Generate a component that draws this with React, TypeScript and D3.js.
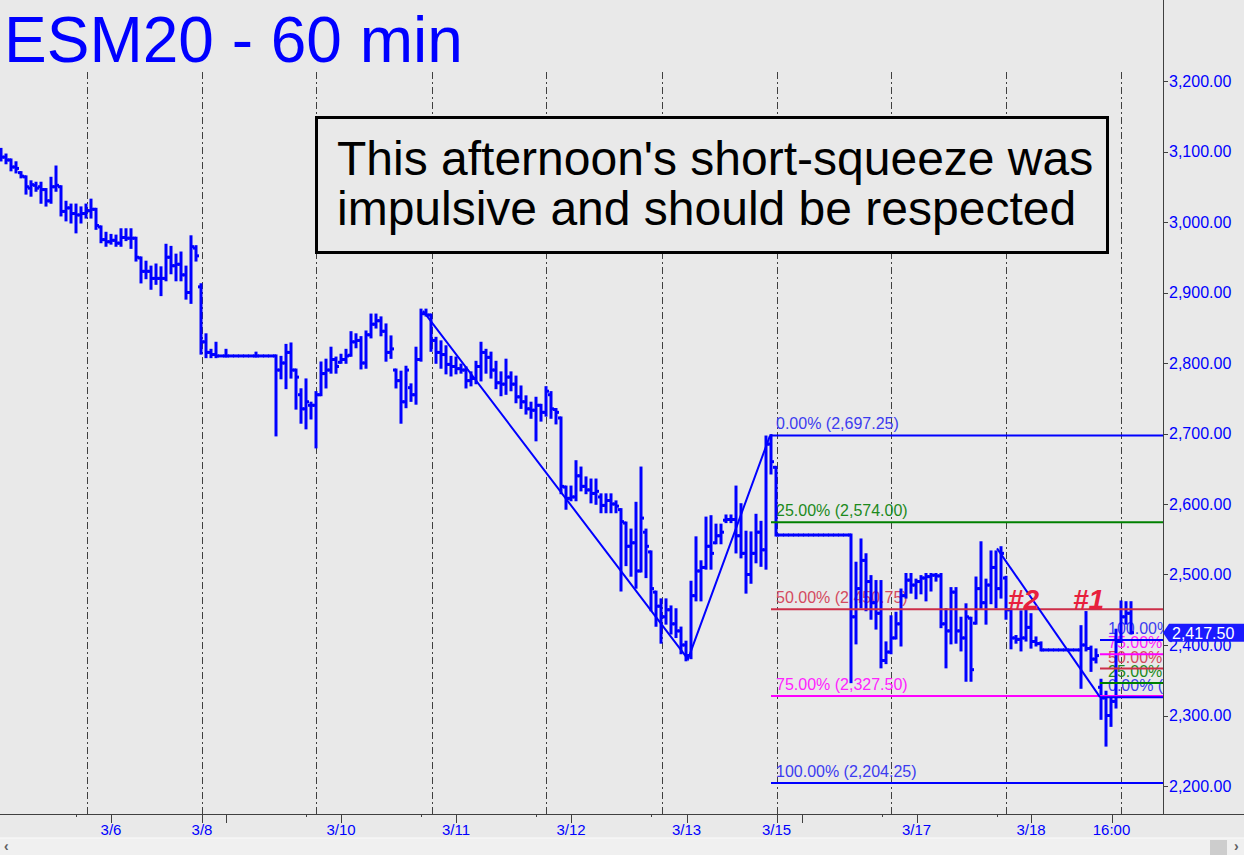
import React from 'react';
import * as d3 from 'd3';

// OHLC hourly bars [open, high, low, close]
const ohlc: [number, number, number, number][] = [
  [3100,3103,3088,3092],[3092,3095,3084,3088],[3088,3088,3074,3078],[3078,3084,3071,3076],
  [3070,3070,3064,3065],[3064,3064,3041,3050],[3048,3057,3038,3053],[3052,3055,3045,3048],
  [3050,3055,3028,3046],[3046,3046,3024,3030],[3030,3062,3028,3050],[3050,3078,3045,3052],
  [3050,3050,3010,3015],[3015,3028,3003,3020],[3020,3024,3000,3012],[3012,3024,2986,3010],
  [3010,3020,3000,3012],[3012,3024,3007,3016],[3016,3031,3007,3018],[3018,3018,2991,2995],
  [2993,2993,2972,2975],[2975,2984,2967,2972],[2972,2981,2970,2974],[2974,2980,2967,2970],
  [2970,2989,2967,2978],[2978,2989,2975,2977],[2977,2989,2964,2977],[2977,2977,2946,2950],
  [2949,2949,2915,2930],[2930,2943,2921,2930],[2930,2936,2906,2920],[2920,2939,2913,2920],
  [2920,2935,2897,2920],[2920,2967,2918,2950],[2950,2964,2928,2938],[2938,2953,2918,2940],
  [2940,2956,2918,2925],[2925,2936,2892,2900],[2900,2979,2886,2965],[2963,2965,2946,2952],
  [2908,2911,2814,2830],[2830,2840,2809,2815],[2815,2818,2809,2812],[2812,2828,2809,2810],
  [2810,2810,2810,2810],[2810,2818,2810,2810],[2810,2810,2810,2810],[2810,2810,2810,2810],
  [2810,2810,2810,2810],[2810,2810,2810,2810],[2810,2810,2810,2810],[2810,2814,2810,2810],
  [2810,2810,2810,2810],[2810,2810,2810,2810],[2810,2810,2810,2810],
  [2810,2810,2698,2790],[2790,2808,2779,2800],[2800,2825,2765,2815],[2815,2827,2780,2790],
  [2790,2790,2736,2780],[2755,2762,2716,2735],[2735,2776,2708,2745],[2740,2743,2722,2740],
  [2740,2758,2681,2755],[2755,2800,2755,2785],[2785,2804,2766,2790],[2790,2821,2787,2805],
  [2805,2807,2787,2795],[2801,2811,2801,2805],[2805,2818,2801,2810],[2811,2843,2811,2830],
  [2830,2840,2823,2832],[2832,2836,2793,2800],[2800,2844,2794,2840],[2840,2868,2837,2855],
  [2855,2868,2851,2860],[2860,2864,2840,2845],[2845,2854,2804,2815],[2815,2837,2808,2820],
  [2790,2790,2766,2775],[2775,2787,2716,2745],[2745,2794,2738,2790],[2765,2769,2747,2755],
  [2755,2821,2743,2805],[2805,2875,2804,2870],[2870,2875,2868,2868],[2868,2868,2818,2832],
  [2832,2835,2801,2815],[2815,2830,2794,2812],[2812,2823,2786,2798],[2798,2808,2783,2795],
  [2795,2807,2786,2792],[2792,2797,2787,2790],[2790,2793,2766,2775],[2775,2786,2769,2778],
  [2778,2801,2772,2795],[2795,2828,2776,2815],[2815,2818,2787,2808],[2808,2814,2780,2790],
  [2790,2801,2765,2772],[2772,2786,2755,2770],[2770,2804,2757,2780],[2780,2786,2762,2770],
  [2770,2780,2745,2752],[2752,2766,2737,2745],[2745,2752,2729,2735],[2735,2743,2723,2733],
  [2733,2750,2691,2740],[2740,2740,2719,2730],[2730,2765,2726,2760],[2755,2758,2723,2735],
  [2734,2734,2715,2730],[2722,2722,2616,2625],[2624,2624,2594,2608],[2608,2624,2606,2610],
  [2610,2660,2606,2640],[2640,2651,2620,2625],[2625,2637,2616,2620],[2620,2634,2603,2615],
  [2615,2634,2601,2618],[2610,2613,2589,2598],[2598,2613,2589,2605],[2605,2613,2589,2600],
  [2600,2603,2589,2597],[2592,2592,2478,2575],[2573,2573,2514,2540],[2540,2563,2499,2545],
  [2545,2601,2482,2505],[2505,2651,2505,2580],[2560,2563,2497,2540],[2532,2532,2450,2480],
  [2475,2475,2428,2455],[2455,2464,2404,2440],[2440,2464,2431,2450],[2450,2454,2417,2430],
  [2430,2450,2412,2420],[2420,2424,2389,2400],[2400,2404,2379,2385],[2385,2489,2382,2470],
  [2470,2552,2464,2505],[2505,2518,2464,2510],[2510,2580,2509,2540],[2540,2582,2509,2530],
  [2545,2570,2545,2555],[2555,2570,2545,2560],[2577,2583,2575,2578],[2578,2583,2575,2578],
  [2578,2624,2532,2555],[2555,2599,2525,2530],[2530,2560,2475,2500],[2500,2559,2489,2530],
  [2530,2584,2518,2560],[2560,2574,2513,2535],[2535,2695,2509,2685],[2685,2697,2644,2660],
  [2652,2652,2556,2556],
  [2556,2556,2556,2556],[2556,2556,2556,2556],[2556,2556,2556,2556],[2556,2556,2556,2556],
  [2556,2556,2556,2556],[2556,2556,2556,2556],[2556,2556,2556,2556],[2556,2556,2556,2556],
  [2556,2556,2556,2556],[2556,2556,2556,2556],[2556,2556,2556,2556],[2556,2556,2556,2556],
  [2556,2556,2556,2556],[2556,2556,2556,2556],
  [2556,2556,2348,2440],[2440,2516,2403,2480],[2480,2549,2454,2520],[2520,2528,2450,2490],
  [2490,2497,2438,2460],[2460,2490,2424,2445],[2445,2490,2369,2378],[2378,2403,2375,2390],
  [2390,2440,2389,2410],[2410,2445,2410,2430],[2430,2478,2400,2470],[2470,2500,2468,2492],
  [2492,2500,2475,2485],[2485,2492,2467,2490],[2490,2497,2474,2495],[2495,2500,2464,2497],
  [2497,2500,2478,2499],[2499,2500,2492,2498],[2498,2500,2426,2430],[2430,2450,2369,2420],
  [2420,2480,2403,2475],[2475,2480,2404,2420],[2420,2438,2393,2410],[2410,2457,2350,2440],
  [2438,2438,2350,2365],[2431,2495,2431,2480],[2480,2545,2453,2460],[2460,2492,2431,2485],
  [2485,2532,2460,2510],[2510,2532,2454,2480],[2480,2538,2468,2530],[2495,2496,2438,2450],
  [2450,2450,2396,2410],[2410,2412,2404,2408],[2408,2447,2393,2410],[2410,2450,2407,2425],
  [2425,2443,2397,2405],[2405,2410,2400,2402],[2402,2403,2393,2393],
  [2393,2393,2393,2393],[2393,2393,2393,2393],[2393,2393,2393,2393],[2393,2393,2393,2393],
  [2393,2393,2393,2393],[2393,2393,2393,2393],[2393,2393,2393,2393],
  [2393,2426,2340,2400],[2400,2446,2393,2395],[2395,2397,2364,2380],[2380,2393,2376,2385],
  [2340,2350,2296,2325],[2325,2333,2258,2300],[2300,2326,2286,2320],[2320,2421,2312,2405],
  [2405,2461,2405,2440],[2440,2460,2431,2445],[2445,2460,2417,2417.5],
];

const dayLines = [17.2, 40.2, 63, 86.2, 109, 132.2, 155.2, 178, 201, 224];
const dateLabels = ['3/6', '3/8', '3/10', '3/11', '3/12', '3/13', '3/15', '3/17', '3/18', '16:00'];
const dateLabelPos = [22, 40.2, 68, 91, 114, 137.1, 155.1, 183.1, 206, 222.1];
const minorTicks = [15, 61, 84.1, 107, 130, 176.1, 199.1];
const midTicks = [45, 160.1];
const priceTicks = [2200, 2300, 2400, 2500, 2600, 2700, 2800, 2900, 3000, 3100, 3200];

const fibMainPct = ['0.00%', '25.00%', '50.00%', '75.00%', '100.00%'];
const fibMainVals = [2697.25, 2574.0, 2450.75, 2327.5, 2204.25];
const fibMainColors = ['#0000ff', '#008000', '#cc2e48', '#ff00ff', '#0000ff'];
const fibMainLabelColors = ['#3c3cf0', '#1c8a1c', '#d44a60', '#ff22ff', '#3c3cf0'];
const fibMainStart = 154;

const fibSmallPct = ['100.00%', '75.00%', '50.00%', '25.00%', '0.00%'];
const fibSmallVals = [2407.25, 2387.0, 2366.5, 2346.25, 2326.0];
const fibSmallColors = ['#0000ff', '#ff00ff', '#cc2e48', '#008000', '#0000ff'];
const fibSmallLabelColors = ['#3c3cf0', '#ff22ff', '#d44a60', '#1c8a1c', '#3c3cf0'];
const fibSmallStart = 219.8;

const trend1: [number, number][] = [[84.4, 2874], [137.4, 2380], [153.8, 2697]];
const trend2: [number, number][] = [[199.2, 2537], [219.8, 2326]];

const lastPrice = 2417.5;
const title = 'ESM20 - 60 min';
const noteLines = ["This afternoon's short-squeeze was", 'impulsive and should be respected'];
const markers = [{ t: '#2', i: 201.4 }, { t: '#1', i: 214.4 }];

const W = 1244;
const H = 855;
const PLOT_R = 1163;
const AXIS_Y = 814;
const BG = '#e9e9e9';
const FONT = '"Liberation Sans", Arial, sans-serif';

export default function App() {
  const xs = d3.scaleLinear().domain([0, 226]).range([1, 1131]);
  const ys = d3.scaleLinear().domain([2200, 3200]).range([786, 81]);
  const fmt = d3.format(',.2f');
  const line = d3.line<[number, number]>().x(d => xs(d[0])).y(d => ys(d[1]));

  return (
    <svg width={W} height={H} style={{ position: 'fixed', left: 0, top: 0, display: 'block' }} fontFamily={FONT}>
      <defs>
        <clipPath id="plot"><rect x={0} y={0} width={PLOT_R} height={AXIS_Y} /></clipPath>
      </defs>
      <rect x={0} y={0} width={W} height={H} fill={BG} />

      <g clipPath="url(#plot)">
        {dayLines.map((d, k) => (
          <line key={k} x1={Math.round(xs(d)) + 0.5} x2={Math.round(xs(d)) + 0.5} y1={72} y2={AXIS_Y}
            stroke="#404040" strokeWidth={1} strokeDasharray="7,3,2,3" />
        ))}

        {fibMainVals.map((v, k) => (
          <text key={k} x={776} y={ys(v) - 6} fontSize={16} fill={fibMainLabelColors[k]}>
            {`${fibMainPct[k]} (${fmt(v)})`}
          </text>
        ))}
        {fibSmallVals.map((v, k) => (
          <text key={k} x={1108} y={ys(v) - 6} fontSize={16} fill={fibSmallLabelColors[k]}>
            {`${fibSmallPct[k]} (${fmt(v)})`}
          </text>
        ))}

        <g stroke="#0000ff">
          {ohlc.map(([o, h, l, c], i) => {
            const x = xs(i);
            return (
              <g key={i}>
                {h !== l && <line x1={x} x2={x} y1={ys(h) - 1.5} y2={ys(l) + 1.5} strokeWidth={3} />}
                <line x1={x - 3} x2={x} y1={ys(o)} y2={ys(o)} strokeWidth={3} />
                <line x1={x} x2={x + 3} y1={ys(c)} y2={ys(c)} strokeWidth={3} />
              </g>
            );
          })}
        </g>

        {fibMainVals.map((v, k) => (
          <line key={k} x1={xs(fibMainStart)} x2={PLOT_R} y1={ys(v)} y2={ys(v)} stroke={fibMainColors[k]} strokeWidth={2} />
        ))}
        {fibSmallVals.map((v, k) => (
          <line key={k} x1={xs(fibSmallStart)} x2={PLOT_R} y1={ys(v)} y2={ys(v)} stroke={fibSmallColors[k]} strokeWidth={2} />
        ))}

        <path d={line(trend1) || ''} fill="none" stroke="#0000ff" strokeWidth={2} />
        <path d={line(trend2) || ''} fill="none" stroke="#0000ff" strokeWidth={2} />

        {markers.map((m, k) => (
          <text key={k} x={xs(m.i)} y={609} fontSize={28} fontWeight="bold" fontStyle="italic" fill="#e8203c">{m.t}</text>
        ))}
      </g>

      <rect x={316.5} y={117.5} width={791} height={135} fill={BG} stroke="#000" strokeWidth={3} />
      {noteLines.map((t, k) => (
        <text key={k} x={337} y={175 + k * 50} fontSize={48} fill="#000">{t}</text>
      ))}

      <text x={4} y={62} fontSize={64} fill="#0000ff">{title}</text>

      <line x1={PLOT_R + 0.5} x2={PLOT_R + 0.5} y1={0} y2={AXIS_Y} stroke="#404040" strokeWidth={1} />
      <line x1={0} x2={W} y1={AXIS_Y + 0.5} y2={AXIS_Y + 0.5} stroke="#404040" strokeWidth={1} />
      {priceTicks.map((p, k) => (
        <g key={k}>
          <line x1={PLOT_R} x2={PLOT_R + 5} y1={Math.round(ys(p)) + 0.5} y2={Math.round(ys(p)) + 0.5} stroke="#404040" />
          <text x={1169} y={ys(p) + 5.5} fontSize={16} fill="#0000ff">{fmt(p)}</text>
        </g>
      ))}
      {dateLabelPos.map((d, k) => (
        <g key={k}>
          <line x1={Math.round(xs(d)) + 0.5} x2={Math.round(xs(d)) + 0.5} y1={AXIS_Y} y2={AXIS_Y + 9} stroke="#404040" />
          <text x={xs(d)} y={835} fontSize={15} fill="#0000ff" textAnchor="middle">{dateLabels[k]}</text>
        </g>
      ))}
      {minorTicks.map((d, k) => (
        <line key={k} x1={Math.round(xs(d)) + 0.5} x2={Math.round(xs(d)) + 0.5} y1={AXIS_Y} y2={AXIS_Y + 3} stroke="#404040" />
      ))}
      {midTicks.map((d, k) => (
        <line key={k} x1={Math.round(xs(d)) + 0.5} x2={Math.round(xs(d)) + 0.5} y1={AXIS_Y} y2={AXIS_Y + 9} stroke="#404040" />
      ))}

      <path d={`M${PLOT_R},${ys(lastPrice)} L${PLOT_R + 6},${ys(lastPrice) - 9} L${W},${ys(lastPrice) - 9} L${W},${ys(lastPrice) + 9} L${PLOT_R + 6},${ys(lastPrice) + 9} Z`} fill="#1a1aff" />
      <text x={1172} y={ys(lastPrice) + 6} fontSize={16} fill="#fff">{fmt(lastPrice)}</text>

      <rect x={0} y={838} width={W} height={17} fill="#f0f0f0" />
      <line x1={0} x2={W} y1={838} y2={838} stroke="#fafafa" />
      <rect x={1210} y={840} width={17} height={15} fill="#cdcdcd" />
      <text x={4} y={851} fontSize={14} fill="#606060" fontWeight="bold">‹</text>
      <text x={1234} y={851} fontSize={14} fill="#606060" fontWeight="bold">›</text>
    </svg>
  );
}
